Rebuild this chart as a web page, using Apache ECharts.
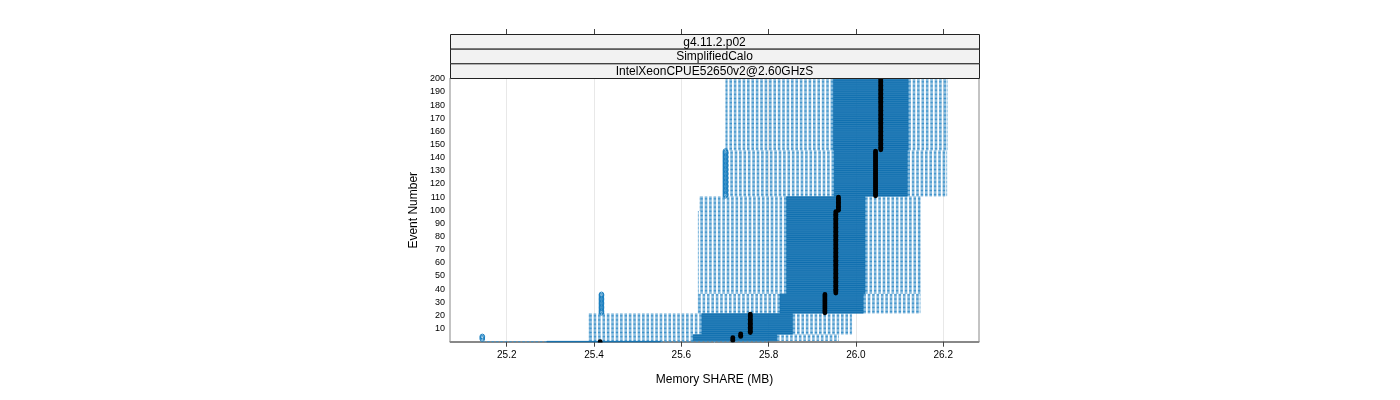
<!DOCTYPE html>
<html>
<head>
<meta charset="utf-8">
<script src="https://cdn.jsdelivr.net/npm/echarts@6/dist/echarts.min.js"></script>
<style>
html,body{margin:0;padding:0;background:#fff;}
#chart{width:1400px;height:400px;}
</style>
</head>
<body>
<div id="chart"></div>
<script>
// ---- data ----
const stripLabels = ["g4.11.2.p02", "SimplifiedCalo", "IntelXeonCPUE52650v2@2.60GHzS"];
const xTicks = [25.2, 25.4, 25.6, 25.8, 26.0, 26.2];
const yTicks = [10, 20, 30, 40, 50, 60, 70, 80, 90, 100, 110, 120, 130, 140, 150, 160, 170, 180, 190, 200];

// groups of consecutive events sharing the same box statistics
const eventFrom   = [146,    111,    100,    37,     22,     7,      6,      4,      1,      0];
const eventTo     = [200,    145,    110,    99,     36,     21,     6,      5,      3,      0];
const whiskerLow  = [25.702, 25.708, 25.643, 25.639, 25.639, 25.389, 25.389, 25.389, 25.389, 25.150];
const boxLow      = [25.948, 25.950, 25.841, 25.841, 25.826, 25.647, 25.647, 25.627, 25.627, 25.292];
const medianValue = [26.057, 26.045, 25.960, 25.954, 25.929, 25.758, 25.736, 25.736, 25.718, 25.414];
const boxHigh     = [26.120, 26.118, 26.021, 26.021, 26.017, 25.855, 25.855, 25.819, 25.819, 25.552];
const whiskerHigh = [26.209, 26.208, 26.147, 26.147, 26.147, 25.990, 25.990, 25.960, 25.960, 25.796];

// outliers: value shared by a run of events
const outlierFrom  = [111,    22,     2];
const outlierTo    = [145,    36,     4];
const outlierValue = [25.701, 25.417, 25.144];

// ---- styles ----
const BOX_COLOR = '#1170b0';
const WHISKER_COLOR = '#3d92ca';
const FONT = 'Liberation Sans, Arial, sans-serif';

const boxData = eventFrom.map((f, i) => [f, eventTo[i], whiskerLow[i], boxLow[i], medianValue[i], boxHigh[i], whiskerHigh[i]]);
const medData = eventFrom.map((f, i) => [f, eventTo[i], medianValue[i]]);
const outData = outlierFrom.map((f, i) => [f, outlierTo[i], outlierValue[i]]);

function renderBoxes(params, api) {
  const from = api.value(0), to = api.value(1);
  const lo = api.value(2), q1 = api.value(3), q3 = api.value(5), hi = api.value(6);
  const hh = api.size([0, 0.5])[1] / 2;
  const children = [];
  for (let e = from; e <= to; e++) {
    const pLo = api.coord([lo, e]);
    const pQ1 = api.coord([q1, e]);
    const pQ3 = api.coord([q3, e]);
    const pHi = api.coord([hi, e]);
    const y = pLo[1];
    children.push({
      type: 'line',
      shape: {x1: pQ1[0], y1: y, x2: pLo[0], y2: y},
      style: {stroke: WHISKER_COLOR, lineWidth: 1, lineDash: [2.6, 1.8], fill: null}
    });
    children.push({
      type: 'line',
      shape: {x1: pQ3[0], y1: y, x2: pHi[0], y2: y},
      style: {stroke: WHISKER_COLOR, lineWidth: 1, lineDash: [2.6, 1.8], fill: null}
    });
    children.push({
      type: 'line',
      shape: {x1: pLo[0], y1: y - hh, x2: pLo[0], y2: y + hh},
      style: {stroke: WHISKER_COLOR, lineWidth: 1, fill: null}
    });
    children.push({
      type: 'line',
      shape: {x1: pHi[0], y1: y - hh, x2: pHi[0], y2: y + hh},
      style: {stroke: WHISKER_COLOR, lineWidth: 1, fill: null}
    });
    children.push({
      type: 'rect',
      shape: {x: pQ1[0], y: y - hh, width: pQ3[0] - pQ1[0], height: 2 * hh},
      style: {stroke: BOX_COLOR, lineWidth: 1, fill: null}
    });
  }
  return {type: 'group', children: children};
}

function renderMedians(params, api) {
  const from = api.value(0), to = api.value(1), v = api.value(2);
  const children = [];
  for (let e = from; e <= to; e++) {
    const p = api.coord([v, e]);
    children.push({type: 'circle', shape: {cx: p[0], cy: p[1], r: 2.4}, style: {fill: '#000'}});
  }
  return {type: 'group', children: children};
}

function renderOutliers(params, api) {
  const from = api.value(0), to = api.value(1), v = api.value(2);
  const children = [];
  for (let e = from; e <= to; e++) {
    const p = api.coord([v, e]);
    children.push({type: 'circle', shape: {cx: p[0], cy: p[1], r: 2.3}, style: {fill: null, stroke: '#1a7fc0', lineWidth: 1}});
  }
  return {type: 'group', children: children};
}

const GRID = {left: 450, right: 421, top: 78, bottom: 57.5};
const stripTop = 34, stripH = (78 - 34) / 3;
const graphics = [];
stripLabels.forEach((t, i) => {
  graphics.push({
    type: 'rect', left: GRID.left, top: stripTop + i * stripH, z: 10,
    shape: {width: 1400 - GRID.left - GRID.right, height: stripH},
    style: {fill: '#f2f2f2', stroke: '#222', lineWidth: 1}
  });
  graphics.push({
    type: 'text', z: 11,
    x: GRID.left + (1400 - GRID.left - GRID.right) / 2,
    y: stripTop + i * stripH + stripH / 2 + 1,
    style: {text: t, fill: '#000', font: '12px ' + FONT, textAlign: 'center', textVerticalAlign: 'middle'}
  });
});

const chart = echarts.init(document.getElementById('chart'), null, {renderer: 'canvas'});
chart.setOption({
  animation: false,
  backgroundColor: '#fff',
  grid: Object.assign({show: true, borderColor: '#888', borderWidth: 1, backgroundColor: 'transparent'}, GRID),
  graphic: graphics,
  xAxis: [{
    type: 'value', min: 25.07, max: 26.282, position: 'bottom',
    name: 'Memory SHARE (MB)', nameLocation: 'middle', nameGap: 31,
    nameTextStyle: {fontFamily: FONT, fontSize: 12, color: '#000'},
    axisLine: {show: true, lineStyle: {color: '#888'}},
    axisTick: {show: true, customValues: xTicks, length: 5, lineStyle: {color: '#444'}},
    axisLabel: {show: true, customValues: xTicks, fontFamily: FONT, fontSize: 10, color: '#000', margin: 8,
      formatter: v => v.toFixed(1)},
    splitLine: {show: false}
  }, {
    type: 'value', min: 25.07, max: 26.282, position: 'top', offset: 44,
    axisLine: {show: false},
    axisTick: {show: true, customValues: xTicks, length: 5, lineStyle: {color: '#444'}},
    axisLabel: {show: false},
    splitLine: {show: false}
  }],
  yAxis: {
    type: 'value', min: -0.6, max: 200.6,
    name: 'Event Number', nameLocation: 'middle', nameGap: 30, nameRotate: 90,
    nameTextStyle: {fontFamily: FONT, fontSize: 12, color: '#000'},
    axisLine: {show: false},
    axisTick: {show: false},
    axisLabel: {show: true, customValues: yTicks, fontFamily: FONT, fontSize: 9, color: '#000', margin: 5},
    splitLine: {show: false}
  },
  series: [{
    type: 'custom', name: 'grid', xAxisIndex: 0, data: [], silent: true,
    renderItem: () => null,
    markLine: {silent: true, symbol: 'none', label: {show: false}, z: 0,
      lineStyle: {color: '#e8e8e8', width: 1, type: 'solid'},
      data: xTicks.map(v => ({xAxis: v}))}
  }, {
    type: 'custom', name: 'boxes', xAxisIndex: 0, clip: true,
    dimensions: ['from', 'to', 'lo', 'q1', 'med', 'q3', 'hi'],
    encode: {x: [2, 3, 4, 5, 6], y: [0, 1]},
    data: boxData, renderItem: renderBoxes, z: 2
  }, {
    type: 'custom', name: 'outliers', xAxisIndex: 0, clip: true,
    encode: {x: [2], y: [0, 1]},
    data: outData, renderItem: renderOutliers, z: 3
  }, {
    type: 'custom', name: 'medians', xAxisIndex: 0, clip: true,
    encode: {x: [2], y: [0, 1]},
    data: medData, renderItem: renderMedians, z: 4
  }]
});
</script>
</body>
</html>
